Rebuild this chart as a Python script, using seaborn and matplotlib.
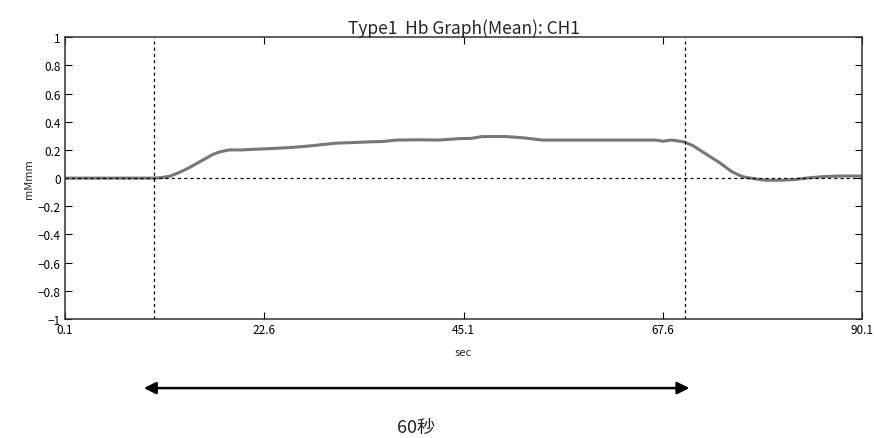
import pandas as pd
import seaborn as sns
import matplotlib.pyplot as plt

# Mean Hb signal (sec, mMmm)
sec = [0.1, 3.0, 6.0, 9.0, 10.1, 11.0, 12.0, 13.0, 14.0, 15.0, 16.0, 16.7, 17.5,
       18.6, 20.0, 21.6, 23.5, 25.8, 28.0, 30.7, 32.5, 34.4, 36.0, 37.5, 40.0,
       42.3, 44.6, 46.0, 47.2, 49.9, 52.0, 54.0, 58.0, 62.0, 66.8, 67.6, 68.6,
       70.0, 71.0, 72.0, 73.0, 74.0, 75.4, 76.6, 77.5, 78.5, 79.3, 81.0, 82.5,
       83.8, 85.5, 87.5, 90.1]
hb = [0.0, 0.0, 0.0, 0.0, 0.0, 0.003, 0.015, 0.04, 0.07, 0.105, 0.14, 0.165, 0.185,
      0.2, 0.2, 0.205, 0.21, 0.218, 0.23, 0.248, 0.252, 0.257, 0.26, 0.27, 0.272,
      0.27, 0.28, 0.282, 0.295, 0.295, 0.285, 0.27, 0.27, 0.27, 0.27, 0.262, 0.27,
      0.257, 0.23, 0.19, 0.15, 0.11, 0.045, 0.01, 0.0, -0.01, -0.015, -0.015, -0.01,
      0.0, 0.01, 0.015, 0.015]

x_ticks = [0.1, 22.6, 45.1, 67.6, 90.1]
y_ticks = [1, 0.8, 0.6, 0.4, 0.2, 0, -0.2, -0.4, -0.6, -0.8, -1]
stim_on, stim_off = 10.1, 70.1
arrow_span = [9.0, 70.6]

df = pd.DataFrame({"sec": sec, "hb": hb})

sns.set_style("ticks")
plt.rcParams["font.family"] = ["Noto Sans CJK JP", "DejaVu Sans"]

fig = plt.figure(figsize=(8.74, 4.39), dpi=100)
ax = fig.add_axes([0.0744, 0.271, 0.912, 0.642])

sns.lineplot(data=df, x="sec", y="hb", ax=ax, color="#777777", linewidth=2.2)
ax.axhline(0, color="black", linestyle=(0, (2.5, 2.5)), linewidth=0.9)
ax.axvline(stim_on, color="black", linestyle=(0, (2.5, 2.5)), linewidth=0.9)
ax.axvline(stim_off, color="black", linestyle=(0, (2.5, 2.5)), linewidth=0.9)

ax.set_xlim(0.1, 90.1)
ax.set_ylim(-1, 1)
ax.set_xticks(x_ticks)
ax.set_xticklabels([f"{t:g}" for t in x_ticks])
ax.set_yticks(y_ticks)
ax.set_yticklabels([("\u2212" if t < 0 else "") + f"{abs(t):g}" for t in y_ticks])
ax.tick_params(direction="in", length=5, width=0.8, labelsize=8.5,
               top=True, right=True, colors="black", pad=3)
for s in ax.spines.values():
    s.set_linewidth(1.1)
    s.set_color("#333333")

ax.set_title("Type1  Hb Graph(Mean): CH1", fontsize=12.5, pad=3)
ax.set_xlabel("sec", fontsize=8, labelpad=8)
ax.set_ylabel("mMmm", fontsize=8, labelpad=3)

# 60 second stimulation arrow under the axes
ax.annotate("", xy=(arrow_span[0], -0.245), xytext=(arrow_span[1], -0.245),
            xycoords=("data", "axes fraction"), textcoords=("data", "axes fraction"),
            arrowprops=dict(arrowstyle="<|-|>", color="black", lw=1.8,
                            mutation_scale=18, shrinkA=0, shrinkB=0),
            annotation_clip=False)
ax.text(39.7, -0.383, "60秒", transform=ax.get_xaxis_transform(),
        ha="center", va="center", fontsize=13)

plt.savefig("out.png", dpi=100)
